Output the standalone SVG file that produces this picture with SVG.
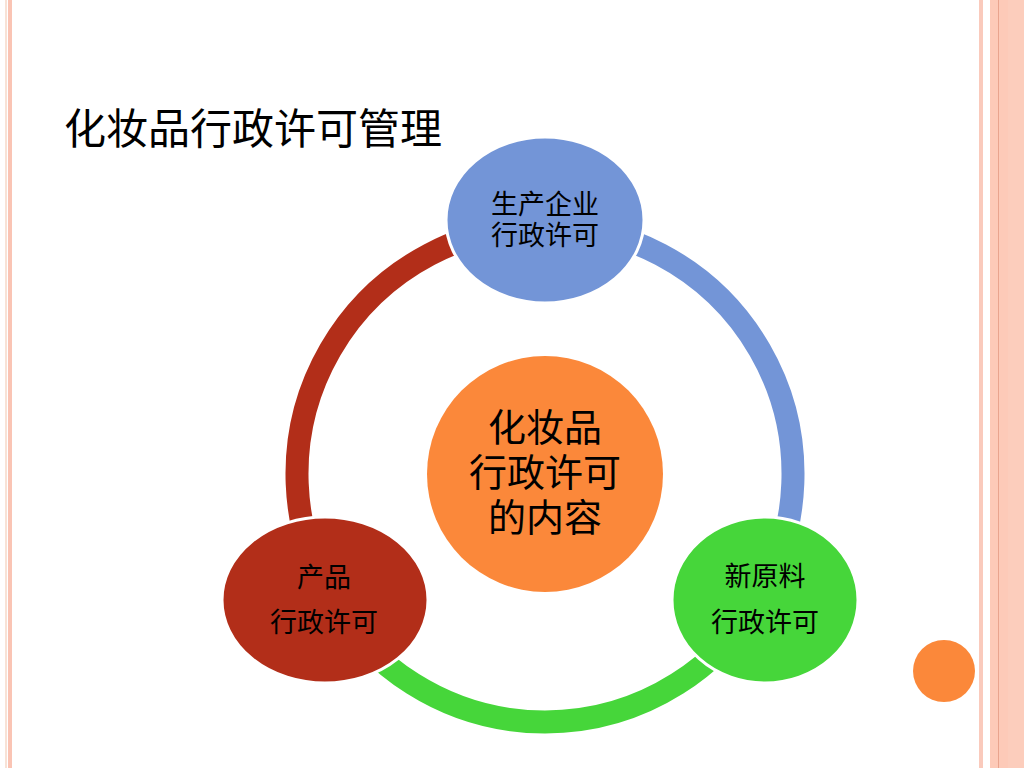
<svg xmlns="http://www.w3.org/2000/svg" width="1024" height="768" viewBox="0 0 1024 768">
<style>
.t{font-family:"Noto Sans CJK SC","Noto Sans CJK TC",sans-serif;fill:#000;text-anchor:middle}
.title{font-family:"Noto Sans CJK SC",sans-serif;fill:#000;font-size:42px}
.node{stroke:#fff;stroke-width:3}
.arc{fill:none;stroke-width:23}
</style>
<rect width="1024" height="768" fill="#fff"/>
<g id="borders">
<rect x="5" y="0" width="2" height="768" fill="#F8E2D6"/>
<rect x="8" y="0" width="4" height="768" fill="#FAC4B4"/>
<rect x="979" y="0" width="4" height="768" fill="#FACABC"/>
<rect x="990" y="0" width="34" height="768" fill="#FDCAB8"/>
<rect x="1008" y="0" width="16" height="768" fill="#FCCDBC"/>
<line x1="998.5" y1="0" x2="998.5" y2="768" stroke="#E9A48E" stroke-width="1"/>
</g>
<text class="title" x="64" y="144">化妆品行政许可管理</text>
<g id="connectors">
<path class="arc" stroke="#7395D7" d="M 545 226 A 248 248 0 0 1 759.77 598"/>
<path class="arc" stroke="#46D63A" d="M 759.77 598 A 248 248 0 0 1 330.23 598"/>
<path class="arc" stroke="#B22E19" d="M 330.23 598 A 248 248 0 0 1 545 226"/>
</g>
<g id="center">
<circle cx="545" cy="474" r="118" fill="#FB883A"/>
<text class="t" font-size="38"><tspan x="545" y="441">化妆品</tspan><tspan x="545" y="486">行政许可</tspan><tspan x="545" y="531">的内容</tspan></text>
</g>
<g id="node-production">
<ellipse class="node" cx="545" cy="220" rx="99" ry="83" fill="#7395D7"/>
<text class="t" font-size="27"><tspan x="545" y="214">生产企业</tspan><tspan x="545" y="245">行政许可</tspan></text>
</g>
<g id="node-material">
<ellipse class="node" cx="765" cy="600" rx="93" ry="83" fill="#46D63A"/>
<text class="t" font-size="27"><tspan x="765" y="586">新原料</tspan><tspan x="765" y="632">行政许可</tspan></text>
</g>
<g id="node-product">
<ellipse class="node" cx="325" cy="600" rx="103" ry="83" fill="#B22E19"/>
<text class="t" font-size="27"><tspan x="324" y="587">产品</tspan><tspan x="324" y="632">行政许可</tspan></text>
</g>
<g id="decor">
<circle cx="944" cy="671" r="31" fill="#FB883A"/>
</g>
</svg>
